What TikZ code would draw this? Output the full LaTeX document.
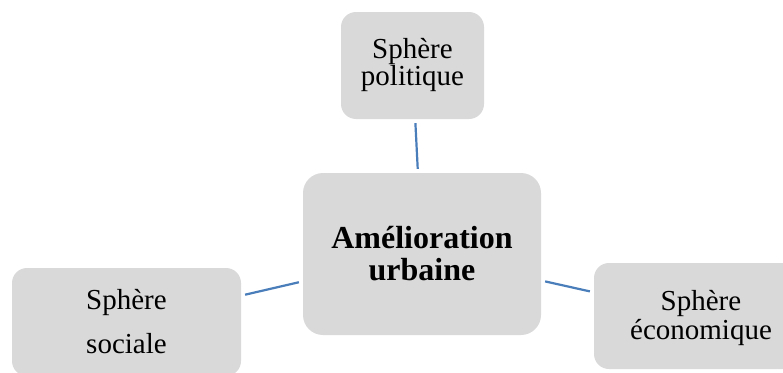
\documentclass[tikz,border=0pt]{standalone}
\usepackage{fontspec}
\setmainfont{Liberation Serif}
\usetikzlibrary{positioning, calc}

\definecolor{boxgray}{HTML}{D9D9D9}
\definecolor{linkblue}{HTML}{4A7EBB}

\begin{document}
\begin{tikzpicture}[
    x=1pt, y=-1pt,
    % Styling
    sphere box/.style={
        fill=boxgray,
        rounded corners=15pt,
        inner sep=0pt,
        align=center,
        text=black
    },
    main box/.style={
        sphere box,
        rounded corners=20pt,
        minimum width=238pt,
        minimum height=162pt,
        font=\bfseries\fontsize{32}{32}\selectfont
    },
    link/.style={
        draw=linkblue,
        line width=2.2pt,
        shorten <=4pt,
        shorten >=4pt
    }
]

% --- Frame ---
\useasboundingbox (0,0) rectangle (783,372);
\clip (0,0) rectangle (783,372);

% --- Boxes ---
\node[main box] (urban) at (422,254) {Amélioration\\urbaine};

\node[sphere box, minimum width=143pt, minimum height=107pt,
      font=\fontsize{29}{27}\selectfont] (politic) at (412.5,65.5) {Sphère\\politique};

\node[sphere box, minimum width=229pt, minimum height=108pt,
      font=\fontsize{29}{44}\selectfont] (social) at (126.5,322) {Sphère\\sociale};

\node[sphere box, minimum width=214pt, minimum height=106pt,
      font=\fontsize{29}{29}\selectfont] (econ) at (701,316) {\rule{0pt}{25pt}Sphère\\économique};

% --- Links ---
\draw[link] (politic) -- (urban);
\draw[link] (social) -- (urban);
\draw[link] (urban) -- (econ);

\end{tikzpicture}
\end{document}
